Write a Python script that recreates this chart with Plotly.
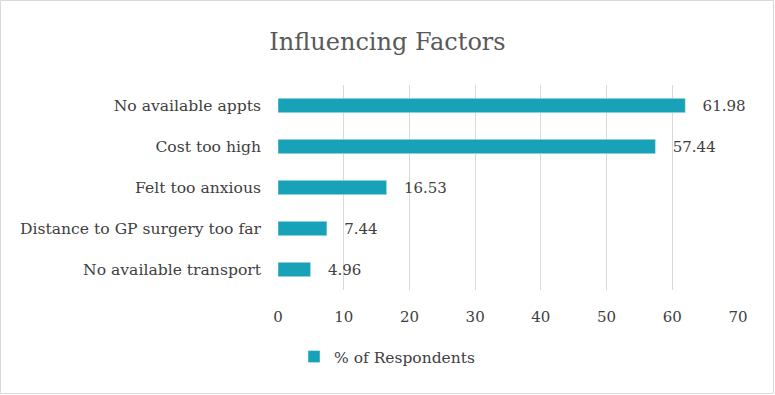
import plotly.graph_objects as go

categories = ["No available appts", "Cost too high", "Felt too anxious",
              "Distance to GP surgery too far", "No available transport"]
values = [61.98, 57.44, 16.53, 7.44, 4.96]
series_name = "% of Respondents"
x_ticks = [0, 10, 20, 30, 40, 50, 60, 70]

W, H = 775, 395
L, R, T, B = 278, 37, 85, 105
pw, ph = W - L - R, H - T - B
FONT = "DejaVu Serif"

fig = go.Figure()
fig.add_trace(go.Bar(
    y=categories, x=values, orientation="h", name=series_name,
    marker=dict(color="#17A2B8"),
    text=[f"   {v:.2f}" for v in values], textposition="outside",
    constraintext="none",
    textfont=dict(family=FONT, size=15, color="#404040"),
    cliponaxis=False, showlegend=True,
))

fig.update_layout(
    width=W, height=H,
    margin=dict(l=L, r=R, t=T, b=B, autoexpand=False),
    paper_bgcolor="white", plot_bgcolor="white",
    bargap=0.65,
    font=dict(family=FONT, size=15, color="#404040"),
    title=dict(text="Influencing Factors", x=0.5, xanchor="center",
               y=1 - 42 / H, yanchor="middle",
               font=dict(family=FONT, size=24, color="#595959")),
    xaxis=dict(range=[0, 70], tickvals=x_ticks, showgrid=True,
               gridcolor="#D9D9D9", gridwidth=1, zeroline=False,
               showline=False, ticks="", ticklabelstandoff=16,
               tickfont=dict(size=15, color="#404040")),
    yaxis=dict(categoryorder="array", categoryarray=categories[::-1],
               showgrid=False, ticks="", showline=False,
               ticklabelstandoff=16,
               tickfont=dict(size=15.6, color="#404040")),
    legend=dict(orientation="h", x=(387 - L) / pw, xanchor="center",
                y=-(357 - (T + ph)) / ph, yanchor="middle",
                font=dict(size=15.5, color="#404040")),
    shapes=[dict(type="rect", xref="paper", yref="paper",
                 x0=-(L - 0.5) / pw, x1=1 + (R - 1.5) / pw,
                 y0=-(B - 1.5) / ph, y1=1 + (T - 0.5) / ph,
                 line=dict(color="#D9D9D9", width=1), layer="below")],
)

fig.write_html("out.html", config={"displayModeBar": False},
               post_script="document.body.style.margin='0';")
